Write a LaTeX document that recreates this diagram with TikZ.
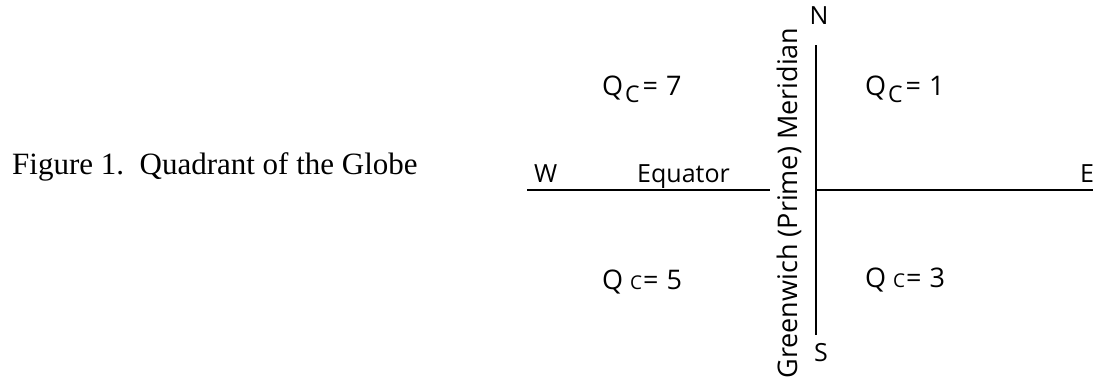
\documentclass[tikz,border=0pt]{standalone}
\usepackage{fontspec}
\setmainfont{Liberation Serif}
\newfontfamily\axisfont{Open Sans}
\usetikzlibrary{positioning}
\tikzset{
  axis line/.style   = {black, line width=2.6pt},
  axis label/.style  = {font=\axisfont\fontsize{25}{30}\selectfont, inner sep=0pt},
  quad label/.style  = {font=\axisfont\fontsize{27}{30}\selectfont, inner sep=0pt,
                        anchor=base west},
  caption text/.style = {font=\fontsize{31}{36}\selectfont, inner sep=0pt,
                         anchor=base west},
}
\newcommand{\qsub}{Q\kern2pt\raisebox{-7pt}{\fontsize{23}{24}\selectfont C}\kern3pt=\kern8pt}
\newcommand{\qlow}{Q\kern7pt{\fontsize{19}{20}\selectfont C}\kern1pt=\kern8pt}

\begin{document}
\begin{tikzpicture}[x=1pt, y=-1pt]
  \useasboundingbox (0,0) rectangle (1093,383);
  % caption
  \node[caption text] (caption) at (12,174) {Figure 1.\ \ Quadrant of the Globe};
  % axes
  \coordinate (west end) at (527,190);
  \coordinate (gap end) at (770,190);
  \coordinate (centre) at (816,190);
  \coordinate (east end) at (1093,190);
  \coordinate (north end) at (816,45);
  \coordinate (south end) at (816,335);
  \draw[axis line] (west end) -- (gap end);
  \draw[axis line] (centre) -- (east end);
  \draw[axis line] (north end) -- (south end);
  % compass points
  \node[axis label] (n) at (819,16) {N};
  \node[axis label] (s) at (821,353) {S};
  \node[axis label, anchor=base west] (w) at (534,182) {W};
  \node[axis label, anchor=base west] (e) at (1080,182) {E};
  \node[axis label, anchor=base west] (equator) at (637,182) {Equator};
  \node[axis label, rotate=90, font=\axisfont\fontsize{27}{30}\selectfont]
    (meridian) at (789,203) {Greenwich (Prime) Meridian};
  % quadrant codes
  \node[quad label] (q7) at (602,95) {\qsub 7};
  \node[quad label] (q1) at (865,95) {\qsub 1};
  \node[quad label] (q5) at (602,289) {\qlow 5};
  \node[quad label] (q3) at (865,287) {\qlow 3};
\end{tikzpicture}
\end{document}
